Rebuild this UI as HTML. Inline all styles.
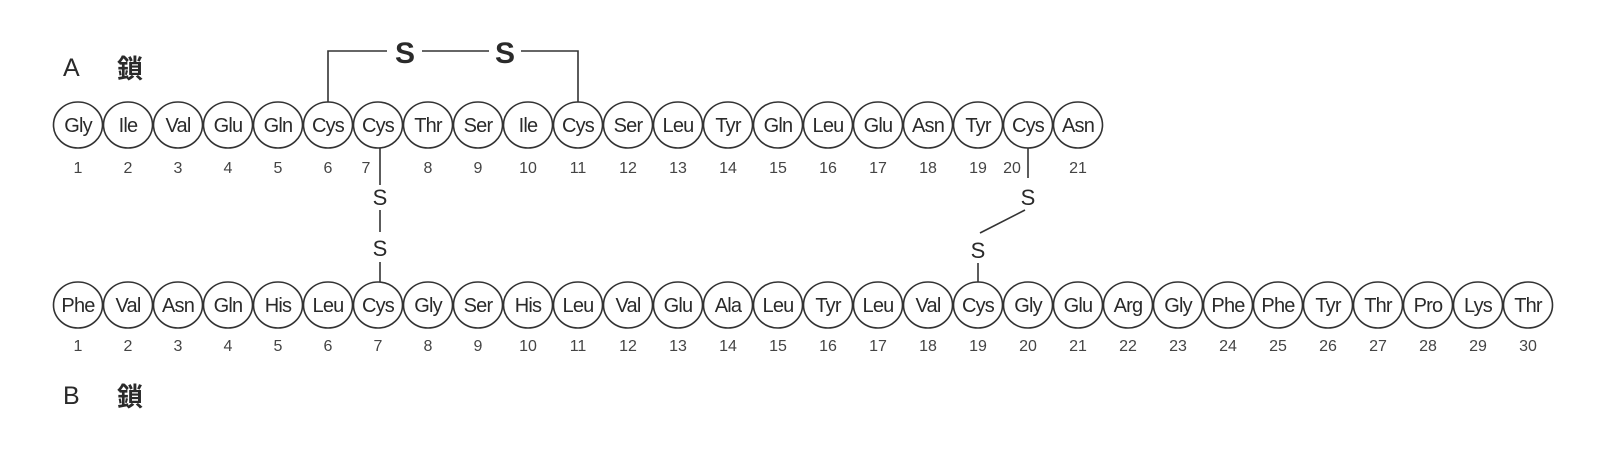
<!DOCTYPE html>
<html><head><meta charset="utf-8"><style>
html,body{margin:0;padding:0;background:#fff;}
svg{display:block;}
text{font-family:"Liberation Sans","Noto Sans CJK JP",sans-serif;fill:#2a2a2a;}
.r{font-size:20px;text-anchor:middle;letter-spacing:-0.8px;}
.n{font-size:16px;text-anchor:middle;fill:#444;}
</style></head><body>
<svg width="1610" height="450" viewBox="0 0 1610 450" xmlns="http://www.w3.org/2000/svg">
<g stroke="#333" stroke-width="1.6" fill="none">
<polyline points="328,102 328,51 387,51"/>
<line x1="422" y1="51" x2="489" y2="51"/>
<polyline points="521,51 578,51 578,102"/>
<line x1="380" y1="148" x2="380" y2="185"/>
<line x1="380" y1="210" x2="380" y2="232"/>
<line x1="380" y1="262" x2="380" y2="282"/>
<line x1="1028" y1="148" x2="1028" y2="178"/>
<line x1="1025" y1="210" x2="980" y2="233"/>
<line x1="978" y1="263" x2="978" y2="282"/>
</g>
<text x="405" y="63" text-anchor="middle" style="font-size:30px;font-weight:bold">S</text>
<text x="505" y="63" text-anchor="middle" style="font-size:30px;font-weight:bold">S</text>
<g style="font-size:22px">
<text x="380" y="205" text-anchor="middle">S</text>
<text x="380" y="256" text-anchor="middle">S</text>
<text x="1028" y="205" text-anchor="middle">S</text>
<text x="978" y="258" text-anchor="middle">S</text>
</g>
<text x="63" y="76" style="font-size:25px">A</text>
<text x="117" y="78" style="font-size:26px;font-weight:bold">鎖</text>
<text x="63" y="404" style="font-size:25px">B</text>
<text x="117" y="406" style="font-size:26px;font-weight:bold">鎖</text>
<g id="A"></g>
<g id="B"></g>
<script>
var A=["Gly","Ile","Val","Glu","Gln","Cys","Cys","Thr","Ser","Ile","Cys","Ser","Leu","Tyr","Gln","Leu","Glu","Asn","Tyr","Cys","Asn"];
var B=["Phe","Val","Asn","Gln","His","Leu","Cys","Gly","Ser","His","Leu","Val","Glu","Ala","Leu","Tyr","Leu","Val","Cys","Gly","Glu","Arg","Gly","Phe","Phe","Tyr","Thr","Pro","Lys","Thr"];
var ns="http://www.w3.org/2000/svg";
function draw(arr,cy,ny,g,shift){
  arr.forEach(function(n,i){
    var cx=78+50*i;
    var e=document.createElementNS(ns,"ellipse");
    e.setAttribute("cx",cx);e.setAttribute("cy",cy);e.setAttribute("rx",24.5);e.setAttribute("ry",23);
    e.setAttribute("fill","#fff");e.setAttribute("stroke","#333");e.setAttribute("stroke-width","1.6");
    g.appendChild(e);
    var t=document.createElementNS(ns,"text");
    t.setAttribute("x",cx);t.setAttribute("y",cy+7);t.setAttribute("class","r");t.textContent=n;g.appendChild(t);
    var u=document.createElementNS(ns,"text");
    var nx=cx; if(shift[i+1]) nx=cx+shift[i+1];
    u.setAttribute("x",nx);u.setAttribute("y",ny);u.setAttribute("class","n");u.textContent=(i+1);g.appendChild(u);
  });
}
draw(A,125,173,document.getElementById("A"),{7:-12,20:-16});
draw(B,305,351,document.getElementById("B"),{});
</script>
</svg>
</body></html>
